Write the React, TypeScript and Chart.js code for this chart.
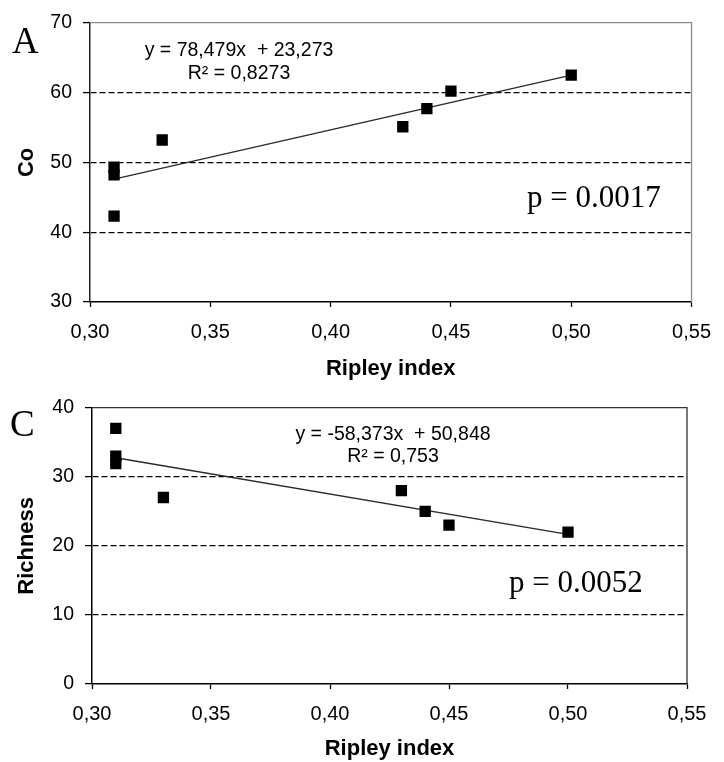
import React, { useEffect, useRef } from "react";
import { Chart, registerables } from "chart.js";

Chart.register(...registerables);

// ---------- data ----------
const ripleyA = [0.31, 0.31, 0.31, 0.33, 0.43, 0.44, 0.45, 0.5];
const coValues = [42.3, 48.2, 49.3, 53.2, 55.1, 57.7, 60.2, 62.5];
const trendAX = [0.31, 0.5];
const trendAY = [47.6, 62.5];

const ripleyC = [0.31, 0.31, 0.31, 0.33, 0.43, 0.44, 0.45, 0.5];
const richnessValues = [37, 33, 31.9, 27, 28, 25, 23, 22];
const trendCX = [0.31, 0.5];
const trendCY = [32.75, 21.66];

const xRange = [0.3, 0.55];
const yRangeA = [30, 70];
const yRangeC = [0, 40];

const eqTextA = ["y = 78,479x  + 23,273", "R² = 0,8273"];
const eqTextC = ["y = -58,373x  + 50,848", "R² = 0,753"];
const pTextA = "p = 0.0017";
const pTextC = "p = 0.0052";

const SANS = '"Liberation Sans", Arial, Helvetica, sans-serif';
const SERIF = '"Liberation Serif", "Times New Roman", Times, serif';

const decorPlugin = {
  id: "decor",
  afterDraw(chart: any, _args: any, o: any) {
    const { ctx, chartArea: ca } = chart;
    ctx.save();
    ctx.strokeStyle = o.frameColor;
    ctx.lineWidth = 1.3;
    ctx.beginPath();
    ctx.moveTo(ca.left, ca.top);
    ctx.lineTo(ca.right, ca.top);
    ctx.lineTo(ca.right, ca.bottom);
    ctx.stroke();

    ctx.fillStyle = "#000";
    ctx.textBaseline = "alphabetic";
    ctx.font = `37px ${SERIF}`;
    ctx.textAlign = "left";
    ctx.fillText(o.letter, o.letterX, o.letterY);

    ctx.font = `19.5px ${SANS}`;
    ctx.textAlign = "center";
    ctx.fillText(o.eq[0], o.eqX, o.eqY);
    ctx.fillText(o.eq[1], o.eqX, o.r2Y);

    ctx.font = `31px ${SERIF}`;
    ctx.textAlign = "left";
    ctx.fillText(o.p, o.pX, o.pY);
    ctx.restore();
  },
};

function buildChart(canvas: HTMLCanvasElement, p: any) {
  return new Chart(canvas, {
    type: "scatter",
    data: {
      datasets: [
        {
          data: p.xs.map((x: number, i: number) => ({ x, y: p.ys[i] })),
          pointStyle: "rect",
          pointRadius: 8,
          pointHoverRadius: 8,
          backgroundColor: "#000",
          borderColor: "#000",
          borderWidth: 0,
          order: 0,
        },
        {
          data: p.tx.map((x: number, i: number) => ({ x, y: p.ty[i] })),
          showLine: true,
          pointRadius: 0,
          borderColor: "#2a2a2a",
          borderWidth: 1.4,
          order: 1,
        },
      ],
    } as any,
    options: {
      responsive: false,
      animation: false,
      devicePixelRatio: 1,
      layout: { padding: { left: 0, right: p.padRight, top: p.padTop, bottom: 0 } },
      plugins: {
        legend: { display: false },
        tooltip: { enabled: false },
        decor: p.decor,
      } as any,
      scales: {
        x: {
          type: "linear",
          position: "bottom",
          min: xRange[0],
          max: xRange[1],
          ticks: {
            stepSize: 0.05,
            padding: 13,
            color: "#000",
            font: { family: SANS, size: 20 },
            maxRotation: 0,
            callback: (v: any) => Number(v).toFixed(2).replace(".", ","),
          },
          grid: {
            drawOnChartArea: false,
            drawTicks: true,
            tickLength: 5,
            tickColor: "#000",
            tickWidth: 1.3,
          },
          border: { display: true, color: "#000", width: 1.5 },
          title: {
            display: true,
            text: "Ripley index",
            color: "#000",
            font: { family: SANS, size: 22, weight: "bold" },
            padding: { top: 0, bottom: p.xTitlePad },
          },
          afterFit: (s: any) => {
            s.height = p.xAxisH;
          },
        },
        y: {
          type: "linear",
          min: p.yRange[0],
          max: p.yRange[1],
          ticks: {
            stepSize: 10,
            padding: 11,
            color: "#000",
            font: { family: SANS, size: 19.5 },
          },
          grid: {
            drawOnChartArea: true,
            drawTicks: true,
            tickLength: 7,
            lineWidth: 1.2,
            color: (ctx: any) =>
              ctx.tick && (ctx.tick.value === p.yRange[0] || ctx.tick.value === p.yRange[1])
                ? "rgba(0,0,0,0)"
                : "#000",
            tickColor: "#000",
            tickWidth: 1.3,
            tickBorderDash: [],
          },
          border: { display: true, color: p.leftColor, width: 1.5, dash: [6, 3] },
          title: {
            display: true,
            text: p.yTitle,
            color: "#000",
            font: { family: SANS, size: 22, weight: "bold" },
            padding: { top: 14, bottom: 0 },
          },
          afterFit: (s: any) => {
            s.width = p.yAxisW;
          },
        },
      },
    } as any,
    plugins: [decorPlugin as any],
  });
}

export default function App() {
  const refA = useRef<HTMLCanvasElement>(null);
  const refC = useRef<HTMLCanvasElement>(null);

  useEffect(() => {
    const a = buildChart(refA.current!, {
      xs: ripleyA,
      ys: coValues,
      tx: trendAX,
      ty: trendAY,
      yRange: yRangeA,
      yTitle: "Co",
      padRight: 23,
      padTop: 21,
      yAxisW: 90,
      xAxisH: 83,
      xTitlePad: 3.2,
      leftColor: "#222",
      decor: {
        frameColor: "#8a8a8a",
        letter: "A",
        letterX: 12,
        letterY: 53,
        eq: eqTextA,
        eqX: 239,
        eqY: 56,
        r2Y: 79,
        p: pTextA,
        pX: 527,
        pY: 207,
      },
    });
    const c = buildChart(refC.current!, {
      xs: ripleyC,
      ys: richnessValues,
      tx: trendCX,
      ty: trendCY,
      yRange: yRangeC,
      yTitle: "Richness",
      padRight: 37,
      padTop: 13,
      yAxisW: 92,
      xAxisH: 78,
      xTitlePad: 0,
      leftColor: "#000",
      decor: {
        frameColor: "#333",
        letter: "C",
        letterX: 10,
        letterY: 51,
        eq: eqTextC,
        eqX: 393,
        eqY: 55,
        r2Y: 77,
        p: pTextC,
        pX: 509,
        pY: 207,
      },
    });
    return () => {
      a.destroy();
      c.destroy();
    };
  }, []);

  return (
    <div
      style={{
        position: "absolute",
        left: 0,
        top: 0,
        width: 724,
        height: 762,
        background: "#fff",
      }}
    >
      <canvas ref={refA} width={724} height={385} style={{ display: "block" }} />
      <canvas ref={refC} width={724} height={377} style={{ display: "block" }} />
    </div>
  );
}
